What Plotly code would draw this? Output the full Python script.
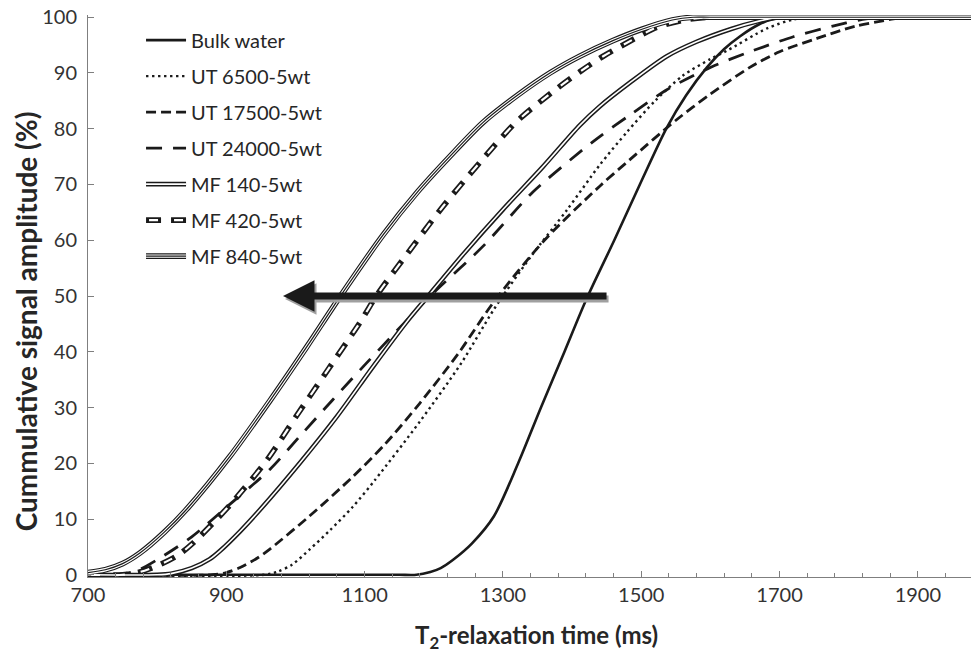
import plotly.graph_objects as go

# ---------------- data ----------------
BULK_X = [700, 900, 1100, 1150, 1175, 1195, 1210, 1228, 1255, 1287, 1322, 1355, 1389, 1421, 1461, 1498, 1537, 1565, 1595, 1620, 1643, 1670, 1696, 1715, 1740, 2000]
BULK_Y = [0, 0, 0, 0, 0, 0.5, 1.2, 2.7, 5.6, 10.5, 20.0, 30.0, 40.0, 49.5, 60.0, 70.0, 80.2, 86.0, 91.0, 94.3, 96.6, 98.7, 99.8, 100, 100, 100]

UT6500_X = [700, 955, 975, 995, 1021, 1050, 1083, 1115, 1180, 1240, 1288, 1340, 1393, 1440, 1480, 1520, 1560, 1600, 1624, 1682, 1720, 1745, 1770, 2000]
UT6500_Y = [0, 0, 0.6, 1.8, 4.6, 8.0, 12.2, 17.0, 27.5, 38.0, 47.8, 57.0, 65.5, 73.5, 79.5, 85.0, 89.5, 92.5, 94.0, 98.0, 99.6, 100, 100, 100]

UT17500_X = [700, 880, 900, 920, 945, 963, 1020, 1083, 1130, 1180, 1235, 1286, 1360, 1440, 1484, 1552, 1600, 1657, 1700, 1754, 1810, 1860, 1880, 1910, 2000]
UT17500_Y = [0, 0, 0.4, 1.3, 3.0, 4.6, 10.5, 17.6, 23.5, 30.8, 39.6, 48.8, 60.0, 69.7, 74.5, 81.7, 86.2, 91.0, 93.8, 96.2, 98.4, 99.6, 100, 100, 100]

UT24000_X = [700, 740, 770, 800, 850, 901, 963, 1006, 1054, 1103, 1156, 1195, 1271, 1343, 1416, 1440, 1484, 1537, 1600, 1657, 1720, 1777, 1820, 1845, 1870, 2000]
UT24000_Y = [0, 0, 0.7, 2.7, 6.8, 12.2, 18.9, 24.8, 31.4, 38.0, 45.0, 50.0, 58.9, 68.6, 76.3, 78.6, 82.5, 87.0, 91.0, 93.8, 96.5, 98.4, 99.6, 100, 100, 100]

MF140_X = [700, 800, 820, 850, 876, 891, 920, 949, 1006, 1060, 1112, 1161, 1192, 1242, 1300, 1358, 1411, 1440, 1484, 1537, 1580, 1630, 1670, 1700, 1730, 2000]
MF140_Y = [0, 0, 0.2, 1.2, 2.8, 4.3, 7.8, 11.7, 20.0, 28.4, 37.3, 45.4, 50.0, 57.4, 65.5, 73.2, 80.6, 84.0, 88.3, 93.0, 95.6, 97.9, 99.3, 100, 100, 100]

MF420_X = [700, 750, 775, 800, 830, 852, 881, 908, 959, 1002, 1046, 1093, 1118, 1166, 1213, 1267, 1320, 1378, 1411, 1445, 1488, 1523, 1566, 1600, 1630, 2000]
MF420_Y = [0, 0, 0.5, 1.6, 3.5, 5.7, 9.3, 12.9, 20.6, 28.6, 36.6, 45.2, 50.2, 58.3, 66.0, 74.0, 81.3, 87.2, 90.2, 93.0, 96.0, 98.2, 99.6, 100, 100, 100]

MF840_X = [700, 725, 750, 775, 810, 843, 905, 963, 1017, 1064, 1127, 1176, 1223, 1271, 1320, 1368, 1411, 1459, 1500, 1545, 1575, 1600, 2000]
MF840_Y = [0.4, 0.9, 2.0, 3.9, 7.6, 11.8, 21.2, 31.2, 41.0, 49.8, 61.0, 68.6, 75.0, 81.1, 85.9, 90.0, 93.0, 95.8, 97.8, 99.5, 100, 100, 100]

NAMES = ["Bulk water", "UT 6500-5wt", "UT 17500-5wt", "UT 24000-5wt",
         "MF 140-5wt", "MF 420-5wt", "MF 840-5wt"]

X_TICKS = [700, 900, 1100, 1300, 1500, 1700, 1900]
Y_TICKS = [0, 10, 20, 30, 40, 50, 60, 70, 80, 90, 100]

X_TITLE = "T<sub>2</sub>-relaxation time (ms)"
Y_TITLE = "Cummulative signal amplitude (%)"

ARROW_TAIL = (1452, 50)
ARROW_TIP = (982, 50)

# ---------------- styles ----------------
series = [
    (BULK_X, BULK_Y),
    (UT6500_X, UT6500_Y),
    (UT17500_X, UT17500_Y),
    (UT24000_X, UT24000_Y),
    (MF140_X, MF140_Y),
    (MF420_X, MF420_Y),
    (MF840_X, MF840_Y),
]
INK = "#1a1a1a"
base_style = [
    dict(color=INK, width=2.6, dash="solid"),
    dict(color=INK, width=2.4, dash="2.4px,3.6px"),
    dict(color=INK, width=2.8, dash="10px,5px"),
    dict(color=INK, width=2.8, dash="16px,11px"),
    dict(color=INK, width=4.6, dash="solid"),
    dict(color=INK, width=5.6, dash="15px,10px"),
    dict(color=INK, width=5.6, dash="solid"),
]
INVIS = dict(color="rgba(0,0,0,0)", width=1, dash="solid")
layer2_style = [INVIS, INVIS, INVIS, INVIS,
                dict(color="white", width=1.6, dash="solid"),
                dict(color="white", width=2.2, dash="0px,3px,9px,13px"),
                dict(color="white", width=3.4, dash="solid")]
layer3_style = [INVIS, INVIS, INVIS, INVIS, INVIS, INVIS,
                dict(color=INK, width=1.2, dash="solid")]

FONT = "Lato"
fig = go.Figure()
for legend_id, styles in (("legend", base_style), ("legend2", layer2_style), ("legend3", layer3_style)):
    for i, ((xs, ys), st) in enumerate(zip(series, styles)):
        fig.add_trace(go.Scatter(
            x=xs, y=ys, mode="lines", name=NAMES[i],
            line=dict(color=st["color"], width=st["width"], dash=st["dash"],
                      shape="spline", smoothing=0.8),
            legend=legend_id, legendgroup=f"{legend_id}_{i}",
            hoverinfo="skip",
        ))

LEG_SIZE = 20
leg_common = dict(x=0.059, y=0.99, xanchor="left", yanchor="top",
                  bgcolor="rgba(0,0,0,0)", borderwidth=0,
                  tracegroupgap=7, itemwidth=40, traceorder="grouped")
# the page body adds an 8px offset, margins compensate for it
fig.update_layout(
    width=979, height=653,
    margin=dict(l=80, r=0, t=7, b=84),
    paper_bgcolor="white", plot_bgcolor="white",
    font=dict(family=FONT, size=20, color="#333333"),
    legend=dict(**leg_common, font=dict(family=FONT, size=LEG_SIZE, color="#262626")),
    legend2=dict(**leg_common, font=dict(family=FONT, size=LEG_SIZE, color="rgba(0,0,0,0)")),
    legend3=dict(**leg_common, font=dict(family=FONT, size=LEG_SIZE, color="rgba(0,0,0,0)")),
    xaxis=dict(range=[700, 2000], tickvals=X_TICKS, ticktext=[str(v) for v in X_TICKS],
               automargin=False, ticklabeloverflow="allow",
               showgrid=False, zeroline=False, showline=True, linecolor="#7f7f7f", linewidth=1,
               ticks="inside", ticklen=6, tickcolor="#7f7f7f",
               minor=dict(dtick=40, tick0=700, ticks="inside", ticklen=4, tickcolor="#7f7f7f", showgrid=False),
               tickfont=dict(family=FONT, size=20, color="#333333")),
    yaxis=dict(range=[-0.4, 100.4], tickvals=Y_TICKS,
               automargin=False, ticklabeloverflow="allow",
               showgrid=False, zeroline=False, showline=True, linecolor="#7f7f7f", linewidth=1,
               ticks="inside", ticklen=6, tickcolor="#7f7f7f",
               tickfont=dict(family=FONT, size=20, color="#333333"),
               ticklabelstandoff=6),
)

# axis titles as annotations for exact placement
fig.add_annotation(text=X_TITLE, xref="paper", yref="paper", x=0.499, y=-0.073,
                   xanchor="center", yanchor="top", showarrow=False,
                   font=dict(family=FONT, size=24, color="#262626", weight="bold"))
fig.add_annotation(text=Y_TITLE, xref="paper", yref="paper", x=-0.069, y=0.455,
                   xanchor="center", yanchor="middle", textangle=-90, showarrow=False,
                   font=dict(family=FONT, size=28, color="#262626", weight="bold"))

# arrow with grey shadow
for col, xs, ys in (("#a0a0a0", 2, -3), (INK, 0, 0)):
    fig.add_annotation(x=ARROW_TIP[0], y=ARROW_TIP[1], ax=ARROW_TAIL[0], ay=ARROW_TAIL[1],
                       xref="x", yref="y", axref="x", ayref="y", text="",
                       showarrow=True, arrowhead=2, arrowsize=0.9, arrowwidth=7,
                       arrowcolor=col, xshift=xs, yshift=ys, standoff=0)

fig.write_html("out.html")
